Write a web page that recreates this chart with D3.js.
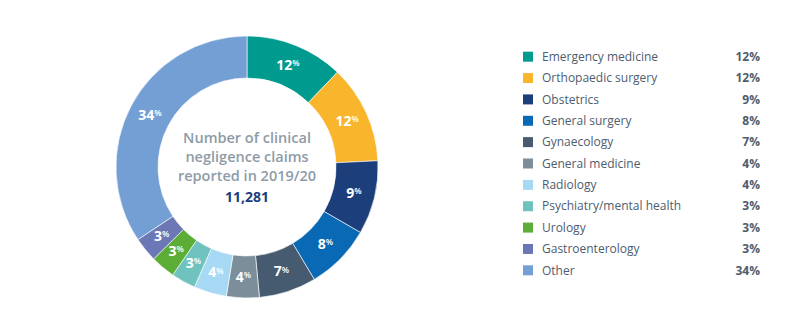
<!DOCTYPE html>
<html>
<head>
<meta charset="utf-8">
<script src="https://cdn.jsdelivr.net/npm/d3@7"></script>
<style>
  body { margin: 0; background: #fff; }
  svg { font-family: "Open Sans", "Noto Sans", sans-serif; }
</style>
</head>
<body>
<div id="container"></div>
<script>
var categories = ["Emergency medicine", "Orthopaedic surgery", "Obstetrics", "General surgery",
  "Gynaecology", "General medicine", "Radiology", "Psychiatry/mental health",
  "Urology", "Gastroenterology", "Other"];
var values = [12, 12, 9, 8, 7, 4, 4, 3, 3, 3, 34];
var colours = ["#009a8f", "#f9b52b", "#1c3f7c", "#0a69b5", "#465b70", "#7d8e9b",
  "#a7d9f5", "#70c2be", "#5cad35", "#6b78b5", "#739fd4"];
var centreLines = ["Number of clinical", "negligence claims", "reported in 2019/20"];
var total = "11,281";

var w = 803, h = 328;
var cx = 247, cy = 167;
var outerR = 131, innerR = 89;

var svg = d3.select("#container")
  .append("svg")
  .attr("width", w)
  .attr("height", h);

var pie = d3.pie().sort(null).value(function(d) { return d; });
var arc = d3.arc().innerRadius(innerR).outerRadius(outerR);
var labelArc = d3.arc().innerRadius(110).outerRadius(110);

var g = svg.append("g").attr("transform", "translate(" + cx + "," + cy + ")");

g.selectAll("path")
  .data(pie(values))
  .enter()
  .append("path")
  .attr("d", arc)
  .attr("fill", function(d, i) { return colours[i]; })
  .attr("stroke", "#fff")
  .attr("stroke-width", 0.6);

// slice labels, number plus small raised %
var lab = g.selectAll("text.slice")
  .data(pie(values))
  .enter()
  .append("text")
  .attr("class", "slice")
  .attr("transform", function(d) { return "translate(" + labelArc.centroid(d) + ")"; })
  .attr("text-anchor", "middle")
  .attr("dy", "0.35em")
  .attr("fill", "#fff")
  .attr("font-weight", 700)
  .attr("font-size", 14);
lab.append("tspan").text(function(d) { return d.data; });
lab.append("tspan").text("%")
  .attr("font-size", 8.5)
  .attr("font-weight", 600)
  .attr("dy", "-0.45em");

// centre text
g.selectAll("text.centre")
  .data(centreLines)
  .enter()
  .append("text")
  .attr("class", "centre")
  .attr("text-anchor", "middle")
  .attr("x", 0)
  .attr("y", function(d, i) { return -24 + i * 19; })
  .attr("fill", "#8e9ba7")
  .attr("font-weight", 600)
  .attr("font-size", 14.5)
  .text(function(d) { return d; });

g.append("text")
  .attr("text-anchor", "middle")
  .attr("y", 35)
  .attr("fill", "#1c3f7c")
  .attr("font-weight", 700)
  .attr("font-size", 14)
  .text(total);

// legend
var y = d3.scaleBand().domain(categories).range([46, 281]);

var leg = svg.selectAll("g.leg")
  .data(categories)
  .enter()
  .append("g")
  .attr("class", "leg")
  .attr("transform", function(d) { return "translate(0," + (y(d) + y.bandwidth() / 2) + ")"; });

leg.append("rect")
  .attr("x", 523)
  .attr("y", -5)
  .attr("width", 10)
  .attr("height", 10)
  .attr("fill", function(d, i) { return colours[i]; });

leg.append("text")
  .attr("x", 542)
  .attr("dy", "0.35em")
  .attr("fill", "#4d5d6e")
  .attr("font-size", 12)
  .text(function(d) { return d; });

leg.append("text")
  .attr("x", 760)
  .attr("dy", "0.35em")
  .attr("text-anchor", "end")
  .attr("fill", "#4d5d6e")
  .attr("font-weight", 700)
  .attr("font-size", 12)
  .text(function(d, i) { return values[i] + "%"; });
</script>
</body>
</html>
